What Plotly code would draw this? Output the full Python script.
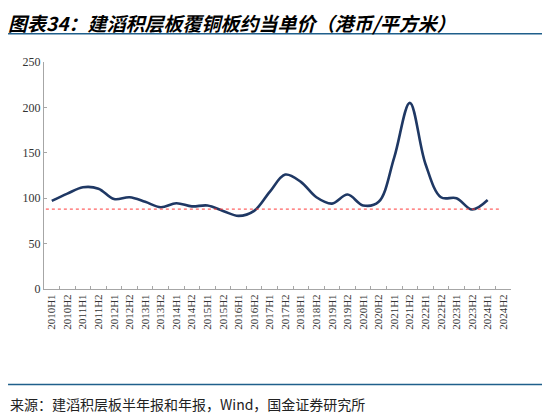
import plotly.graph_objects as go

periods = [f"{y}H{h}" for y in range(2010, 2025) for h in (1, 2)]
price = [97, 105, 112, 110.5, 99, 101, 96, 90, 94.5, 91, 92, 86, 80.5, 86, 107,
         126, 118, 101, 94, 104, 92, 96, 145, 205, 138, 101, 100, 87.5, 98]
ref_level = 88

title = "图表34：建滔积层板覆铜板约当单价（港币/平方米）"
source = "来源：建滔积层板半年报和年报，Wind，国金证券研究所"

fig = go.Figure()
fig.add_trace(go.Scatter(
    x=periods[:len(price)],
    y=price,
    mode='lines',
    line=dict(color='#1f3864', width=2.6, shape='spline', smoothing=1),
    showlegend=False,
))
# red dashed reference line
fig.add_hline(y=ref_level, x0=0.004, x1=0.974,
              line=dict(color='#ff3b3b', width=1, dash='dot'))

# title and rules
fig.add_annotation(text=title, xref='paper', yref='paper', x=-0.079, y=1.236,
                   xanchor='left', yanchor='top', showarrow=False, borderpad=0,
                   font=dict(family='Noto Sans CJK SC', size=19, color='black', weight='bold',
                             style='italic'))
fig.add_shape(type='line', xref='paper', yref='paper', x0=-0.077, x1=1.073,
              y0=1.124, y1=1.124, line=dict(color='#1f5f8b', width=1.5))
fig.add_shape(type='line', xref='paper', yref='paper', x0=-0.077, x1=1.073,
              y0=-0.421, y1=-0.421, line=dict(color='#1f5f8b', width=1.5))
fig.add_annotation(text=source, xref='paper', yref='paper', x=-0.077, y=-0.505,
                   xanchor='left', yanchor='middle', showarrow=False,
                   font=dict(family='Noto Sans CJK SC', size=14, color='#222'))

# page has an 8px body margin, so the figure is 8px smaller each way
fig.update_layout(
    width=542, height=409,
    margin=dict(l=36, r=39, t=54, b=128),
    plot_bgcolor='white', paper_bgcolor='white',
    font=dict(family='Liberation Serif', size=11, color='#333'),
)
fig.update_xaxes(
    type='category', categoryorder='array', categoryarray=periods,
    range=[-0.5, len(periods) - 0.5],
    tickangle=-90, ticks='inside', ticklen=3, tickcolor='#a6a6a6',
    showline=True, linecolor='#a6a6a6', linewidth=1, showgrid=False,
    tickson='boundaries', tickfont=dict(size=11),
)
fig.update_yaxes(
    range=[0, 250], dtick=50, ticks='inside', ticklen=3, tickcolor='#a6a6a6',
    showline=True, linecolor='#a6a6a6', linewidth=1, showgrid=False, zeroline=False,
    tickfont=dict(size=12),
)

fig.write_html("out.html", config={'displayModeBar': False})
